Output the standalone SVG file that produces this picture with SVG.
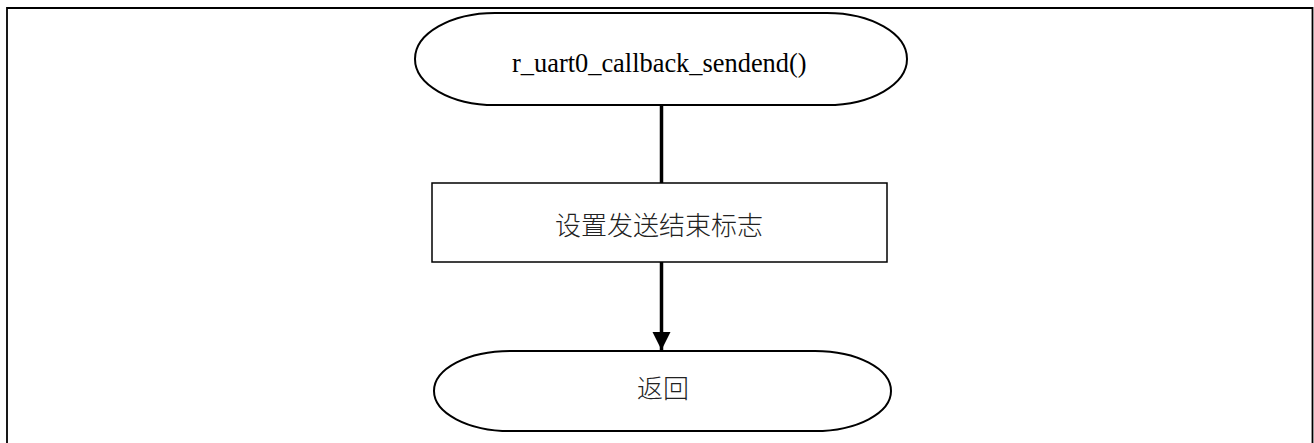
<svg xmlns="http://www.w3.org/2000/svg" width="1314" height="443" viewBox="0 0 1314 443">
<style>
.term{fill:#fff;stroke:#000;stroke-width:2}
.proc{fill:#fff;stroke:#000;stroke-width:1.5}
.lat{font-family:"Liberation Serif","Times New Roman",serif;font-size:26.4px;fill:#000}
.cjk{font-family:"Noto Sans CJK SC","DejaVu Sans",sans-serif;font-size:26px;font-weight:300;fill:#222}
.conn{stroke:#000;stroke-width:3.5;fill:none}
</style>
<defs>
<marker id="arr" markerUnits="userSpaceOnUse" markerWidth="20" markerHeight="20" refX="18" refY="9" orient="auto">
<path d="M0,0 L18,9 L0,18 Z" fill="#000"/>
</marker>
</defs>
<rect width="1314" height="443" fill="#fff"/>
<path d="M7,443 V8 H1312.5 V443" fill="none" stroke="#000" stroke-width="1.8"/>
<g id="connectors">
<line class="conn" x1="661.5" y1="105" x2="661.5" y2="183"/>
<line class="conn" x1="661.5" y1="262" x2="661.5" y2="350" marker-end="url(#arr)"/>
</g>
<g id="start">
<path class="term" d="M495,13 H827 A80,46 0 0 1 827,105 H495 A80,46 0 0 1 495,13 Z"/>
<text class="lat" x="512" y="72">r_uart0_callback_sendend()</text>
</g>
<g id="set-flag">
<rect class="proc" x="432" y="183" width="455" height="79"/>
<text class="cjk" x="555" y="235">设置发送结束标志</text>
</g>
<g id="return">
<path class="term" d="M510,351 H815 A76,40 0 0 1 815,431 H510 A76,40 0 0 1 510,351 Z"/>
<text class="cjk" x="637" y="398">返回</text>
</g>
</svg>
